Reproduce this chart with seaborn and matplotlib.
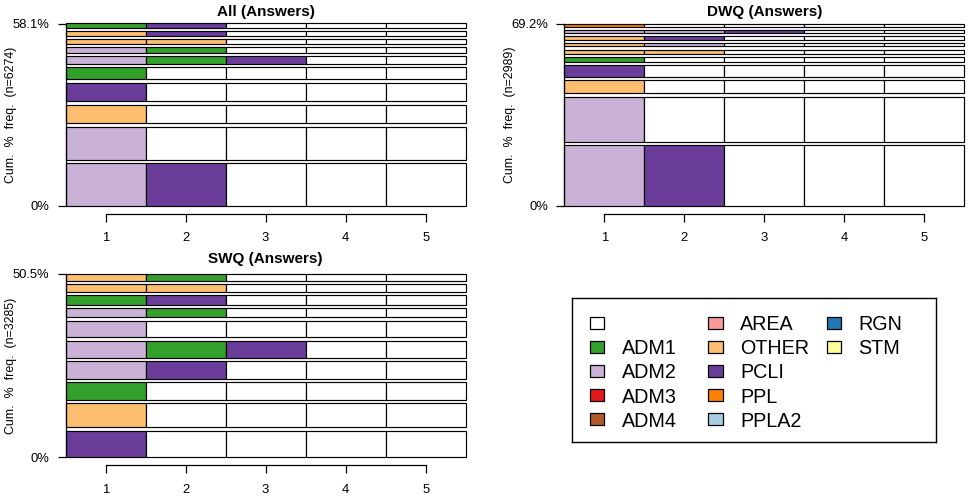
import matplotlib
matplotlib.use("Agg")
import numpy as np
import pandas as pd
import matplotlib.pyplot as plt
from matplotlib.patches import Rectangle
import seaborn as sns

# ---------------- data ----------------
state_labels = ["", "ADM1", "ADM2", "ADM3", "ADM4", "AREA", "OTHER",
                "PCLI", "PPL", "PPLA2", "RGN", "STM"]
state_colors = ["#FFFFFF", "#33A02C", "#CAB2D6", "#E31A1C", "#B15928", "#FB9A99",
                "#FDBF6F", "#6A3D9A", "#FF7F00", "#A6CEE3", "#1F78B4", "#FFFF99"]
positions = [1, 2, 3, 4, 5]

all_title = "All (Answers)"
all_n = 6274
all_seqs = ["ADM2-PCLI", "ADM2", "OTHER", "PCLI", "ADM1", "ADM2-ADM1-PCLI",
            "ADM2-ADM1", "OTHER-OTHER", "OTHER-PCLI", "ADM1-PCLI"]
all_pct = [16.0, 12.7, 7.1, 7.1, 4.5, 3.0, 2.3, 1.9, 1.8, 1.7]

dwq_title = "DWQ (Answers)"
dwq_n = 2989
dwq_seqs = ["ADM2-PCLI", "ADM2", "OTHER", "PCLI", "ADM1", "OTHER-OTHER",
            "OTHER-ADM2", "OTHER-PCLI", "ADM2-ADM2-PCLI", "PPL"]
dwq_pct = [27.1, 20.5, 6.0, 5.4, 2.1, 2.0, 1.6, 1.5, 1.5, 1.5]

swq_title = "SWQ (Answers)"
swq_n = 3285
swq_seqs = ["PCLI", "OTHER", "ADM1", "ADM2-PCLI", "ADM2-ADM1-PCLI", "ADM2",
            "ADM2-ADM1", "ADM1-PCLI", "OTHER-OTHER", "OTHER-ADM1"]
swq_pct = [8.7, 7.8, 6.0, 5.8, 5.6, 5.5, 3.2, 3.2, 2.4, 2.3]

# ---------------- style ----------------
sns.set_theme(style="ticks")
plt.rcParams['font.family'] = ['Liberation Sans', 'DejaVu Sans']
color_map = dict(zip(state_labels, state_colors))

W, H = 972, 503
fig = plt.figure(figsize=(W / 100, H / 100), dpi=100)
fig.patch.set_facecolor("white")


def px_axes(left, top, right, bottom):
    return fig.add_axes([left / W, (H - bottom) / H, (right - left) / W, (bottom - top) / H])


def draw_panel(ax, title, seqs, pct, n, title_pad):
    pct = np.asarray(pct, dtype=float)
    gap = 0.2 * pct.mean()
    bottoms = np.concatenate([[0.0], np.cumsum(pct[:-1] + gap)])
    top = pct.sum() + gap * (len(pct) - 1)
    for seq, h, b in zip(seqs, pct, bottoms):
        parts = seq.split("-")
        parts = parts + [""] * (len(positions) - len(parts))
        cols = [color_map[s] for s in parts]
        ax.bar(positions, [h] * len(positions), width=1.0, bottom=b,
               color=cols, edgecolor="black", linewidth=0.85, clip_on=False)
    ax.set_xlim(0.5, 5.5)
    ax.set_ylim(0, top)
    ax.set_facecolor("none")
    for s in ["top", "right"]:
        ax.spines[s].set_visible(False)
    ax.spines["left"].set_bounds(0, top)
    ax.spines["bottom"].set_bounds(1, 5)
    ax.spines["bottom"].set_position(("outward", 5.8))
    for s in ["left", "bottom"]:
        ax.spines[s].set_color("black")
        ax.spines[s].set_linewidth(0.9)
    ax.set_xticks(positions)
    ax.set_xticklabels([str(p) for p in positions])
    ax.set_yticks([0, top])
    ax.set_yticklabels(["0%", f"{pct.sum():.1f}%"])
    ax.tick_params(axis="both", direction="out", length=5.8, width=0.9,
                   colors="black", labelsize=9.4)
    ax.tick_params(axis="x", pad=7.3)
    ax.tick_params(axis="y", pad=6.0)
    ax.set_ylabel(f"Cum.  %  freq.  (n={n})", fontsize=8.9, color="black")
    ax.yaxis.set_label_coords(-0.121, 0.5)
    ax.set_title(title, fontsize=11, fontweight="bold", color="black", pad=title_pad)


ax_all = px_axes(65.5, 23.5, 465.7, 206)
draw_panel(ax_all, all_title, all_seqs, all_pct, all_n, 5.2)

ax_dwq = px_axes(564.3, 23.5, 964.3, 206)
draw_panel(ax_dwq, dwq_title, dwq_seqs, dwq_pct, dwq_n, 5.2)

ax_swq = px_axes(65.5, 274, 465.7, 457.3)
draw_panel(ax_swq, swq_title, swq_seqs, swq_pct, swq_n, 7.6)

# ---------------- legend panel ----------------
L_left, L_top, L_right, L_bottom = 572.3, 298.3, 936.0, 442.3
ax_leg = px_axes(L_left, L_top, L_right, L_bottom)
ax_leg.set_xlim(0, L_right - L_left)
ax_leg.set_ylim(L_bottom - L_top, 0)
ax_leg.set_xticks([])
ax_leg.set_yticks([])
for s in ax_leg.spines.values():
    s.set_color("black")
    s.set_linewidth(1.0)
    s.set_visible(True)

rows_per_col = 5
col_step = 118.3
row_step = 24.05
sw_x0, sw_y0 = 17.7, 24.4
sw_w, sw_h = 14.3, 11.7
for i, (lab, col) in enumerate(zip(state_labels, state_colors)):
    c, r = divmod(i, rows_per_col)
    x = sw_x0 + c * col_step
    yc = sw_y0 + r * row_step
    ax_leg.add_patch(Rectangle((x, yc - sw_h / 2), sw_w, sw_h, facecolor=col,
                               edgecolor="black", linewidth=0.9))
    ax_leg.text(x + 31.7, yc + 7.7, lab, fontsize=14.2, color="black",
                ha="left", va="baseline")

fig.savefig("out.png", dpi=100, facecolor="white")
